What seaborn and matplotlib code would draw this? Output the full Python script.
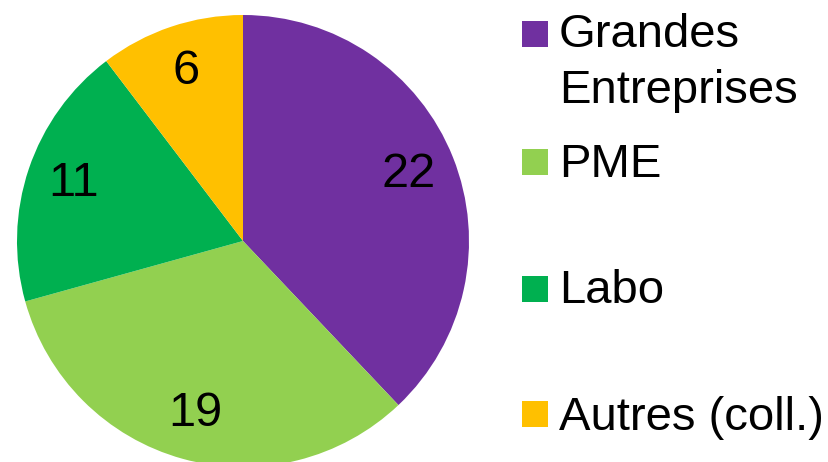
import matplotlib
matplotlib.use("Agg")
import matplotlib.pyplot as plt
import seaborn as sns
from matplotlib.patches import Rectangle

# data
labels = ["Grandes\nEntreprises", "PME", "Labo", "Autres (coll.)"]
values = [22, 19, 11, 6]
colors = ["#7030A0", "#92D050", "#00B050", "#FFC000"]

sns.set_theme(style="white")
plt.rcParams["font.family"] = ["Liberation Sans", "DejaVu Sans"]
palette = sns.color_palette(colors)

W, H = 829, 462
fig = plt.figure(figsize=(W / 100, H / 100), dpi=100)

# pie: center (243, 241) px, radius 226 px
cx, cy, r = 243, 241, 226
ax = fig.add_axes([(cx - r) / W, (H - cy - r) / H, 2 * r / W, 2 * r / H])
ax.pie(values, colors=palette, startangle=90, counterclock=False,
       autopct=lambda p: f"{p * sum(values) / 100:.0f}", pctdistance=0.79,
       textprops={"fontsize": 35, "color": "black"},
       wedgeprops={"linewidth": 0})
ax.set_xlim(-1, 1)
ax.set_ylim(-1, 1)
ax.set_aspect("equal")
ax.axis("off")

# legend drawn by hand to match the uneven spacing
box_tops = [21, 149, 276, 401]
baselines = [47, 177, 303, 430]
for lab, col, top, base in zip(labels, palette, box_tops, baselines):
    fig.add_artist(Rectangle((522 / W, (H - top - 26) / H), 26 / W, 26 / H,
                             transform=fig.transFigure, color=col, lw=0))
    lines = lab.split("\n")
    for i, line in enumerate(lines):
        fig.text(559 / W, (H - base - 56 * i) / H, line, fontsize=34,
                 va="baseline", ha="left", color="black")

fig.savefig("out.png", dpi=100)
